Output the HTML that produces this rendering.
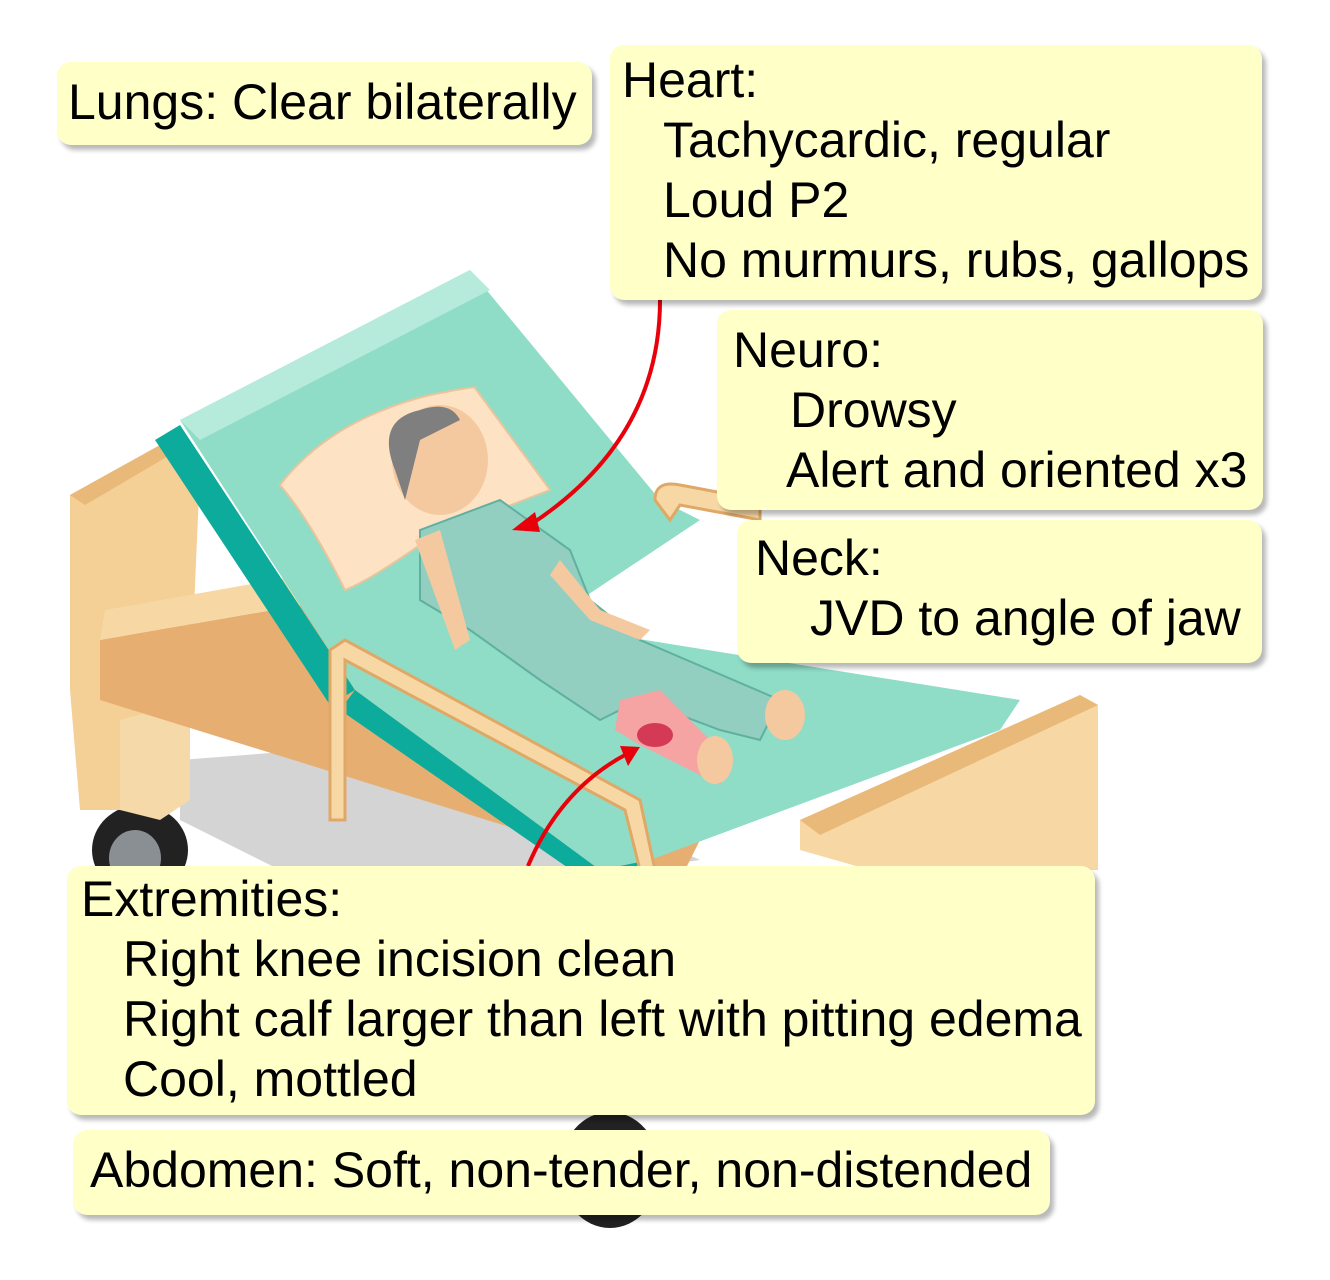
<!DOCTYPE html>
<html><head><meta charset="utf-8"><style>
body{margin:0;background:#fff;}
#c{position:relative;width:1330px;height:1280px;overflow:hidden;font-family:"Liberation Sans",sans-serif;}
.b{position:absolute;background:#FFFFC8;border-radius:14px;box-shadow:4px 5px 5px rgba(0,0,0,0.28);color:#000;font-size:50px;line-height:60px;white-space:nowrap;}
.b div{position:absolute;}
</style></head><body><div id="c">
<svg width="1330" height="1280" style="position:absolute;left:0;top:0">
<polygon points="180,760 440,740 700,860 560,880 300,880 180,820" fill="#d4d4d4"/>
<ellipse cx="140" cy="850" rx="48" ry="45" fill="#222"/>
<ellipse cx="135" cy="858" rx="26" ry="28" fill="#8a8f94"/>
<ellipse cx="610" cy="1170" rx="50" ry="58" fill="#222"/>
<ellipse cx="605" cy="1160" rx="25" ry="30" fill="#8a8f94"/>
<polygon points="70,495 160,445 200,470 190,700 130,720 120,810 80,810 70,690" fill="#f4cf96"/>
<polygon points="70,495 160,445 170,455 85,505" fill="#e9b979"/>
<polygon points="120,720 190,700 190,800 160,820 120,810" fill="#f5d9a8"/>
<polygon points="100,640 330,600 700,840 680,880 100,700" fill="#e7ae72"/>
<polygon points="105,610 330,570 700,800 700,840 330,600 100,640" fill="#f7d8a5"/>
<polygon points="155,440 180,425 355,690 330,705" fill="#0dab9b"/>
<polygon points="180,420 470,270 660,500 700,520 520,640 355,690" fill="#8fddc6"/>
<polygon points="180,420 470,270 490,290 200,440" fill="#b6ebdb"/>
<polygon points="330,640 520,620 1020,700 1000,730 650,860 600,870 355,690" fill="#8fddc6"/>
<polygon points="355,690 600,870 650,860 655,880 600,890 340,710" fill="#0dab9b"/>
<path d="M330,650 L345,640 L640,800 L655,870 L640,870 L625,810 L345,660 L345,820 L330,820 Z" fill="#f7d8a5" stroke="#e0a866" stroke-width="3"/>
<path d="M655,500 Q655,480 680,485 L760,500 L760,520 L680,505 L670,520 Z" fill="#f7d8a5" stroke="#e0a866" stroke-width="3"/>
<polygon points="800,820 1080,695 1098,705 1098,870 870,870 800,850" fill="#f7d8a5"/>
<polygon points="800,820 1080,695 1098,705 820,835" fill="#e9b979"/>
<path d="M280,485 Q330,420 430,395 Q480,385 475,388 L550,490 Q470,520 420,545 Q370,580 345,590 Q310,520 280,485 Z" fill="#fde3c4" stroke="#e9c49c" stroke-width="2"/>
<path d="M420,530 L500,500 L570,550 L590,600 L640,640 L780,700 L760,740 L720,730 L640,700 L600,720 L540,680 L470,630 L420,600 Z" fill="#92cfc0" stroke="#5fb0a0" stroke-width="2"/>
<path d="M415,540 L440,530 L470,640 L455,650 Z" fill="#f5c9a0"/>
<path d="M560,560 L600,610 L650,630 L640,640 L590,620 L550,575 Z" fill="#f5c9a0"/>
<path d="M620,700 L660,690 L700,730 L730,760 L720,785 L690,770 L640,745 L615,730 Z" fill="#f6a3a3"/>
<ellipse cx="655" cy="735" rx="18" ry="12" fill="#d43a55"/>
<ellipse cx="715" cy="760" rx="18" ry="24" fill="#f5c9a0"/>
<ellipse cx="785" cy="715" rx="20" ry="25" fill="#f5c9a0"/>
<ellipse cx="440" cy="460" rx="48" ry="55" fill="#f5c9a0"/>
<path d="M395,470 Q375,420 420,410 Q450,400 460,420 L420,440 L405,500 Z" fill="#7f7f7f"/>
<path d="M660,300 Q660,440 530,525" fill="none" stroke="#e8000b" stroke-width="4"/>
<polygon points="512,530 535,512 540,532" fill="#e8000b"/>
<path d="M528,866 Q560,790 625,755" fill="none" stroke="#e8000b" stroke-width="4"/>
<polygon points="640,747 620,746 628,766" fill="#e8000b"/>
</svg>
<div class="b" style="left:57px;top:62px;width:535px;height:83px"><div style="left:11px;top:10px">Lungs: Clear bilaterally</div></div>
<div class="b" style="left:610px;top:45px;width:652px;height:255px">
<div style="left:12px;top:5px">Heart:</div><div style="left:53px;top:65px">Tachycardic, regular</div><div style="left:53px;top:125px">Loud P2</div><div style="left:53px;top:185px">No murmurs, rubs, gallops</div></div>
<div class="b" style="left:717px;top:310px;width:546px;height:200px">
<div style="left:16px;top:10px">Neuro:</div><div style="left:73px;top:70px">Drowsy</div><div style="left:69px;top:130px">Alert and oriented x3</div></div>
<div class="b" style="left:737px;top:520px;width:525px;height:143px">
<div style="left:18px;top:8px">Neck:</div><div style="left:73px;top:68px">JVD to angle of jaw</div></div>
<div class="b" style="left:67px;top:866px;width:1028px;height:249px">
<div style="left:14px;top:3px">Extremities:</div><div style="left:56px;top:63px">Right knee incision clean</div><div style="left:56px;top:123px">Right calf larger than left with pitting edema</div><div style="left:56px;top:183px">Cool, mottled</div></div>
<div class="b" style="left:73px;top:1130px;width:977px;height:85px"><div style="left:17px;top:10px">Abdomen: Soft, non-tender, non-distended</div></div>
</div></body></html>
